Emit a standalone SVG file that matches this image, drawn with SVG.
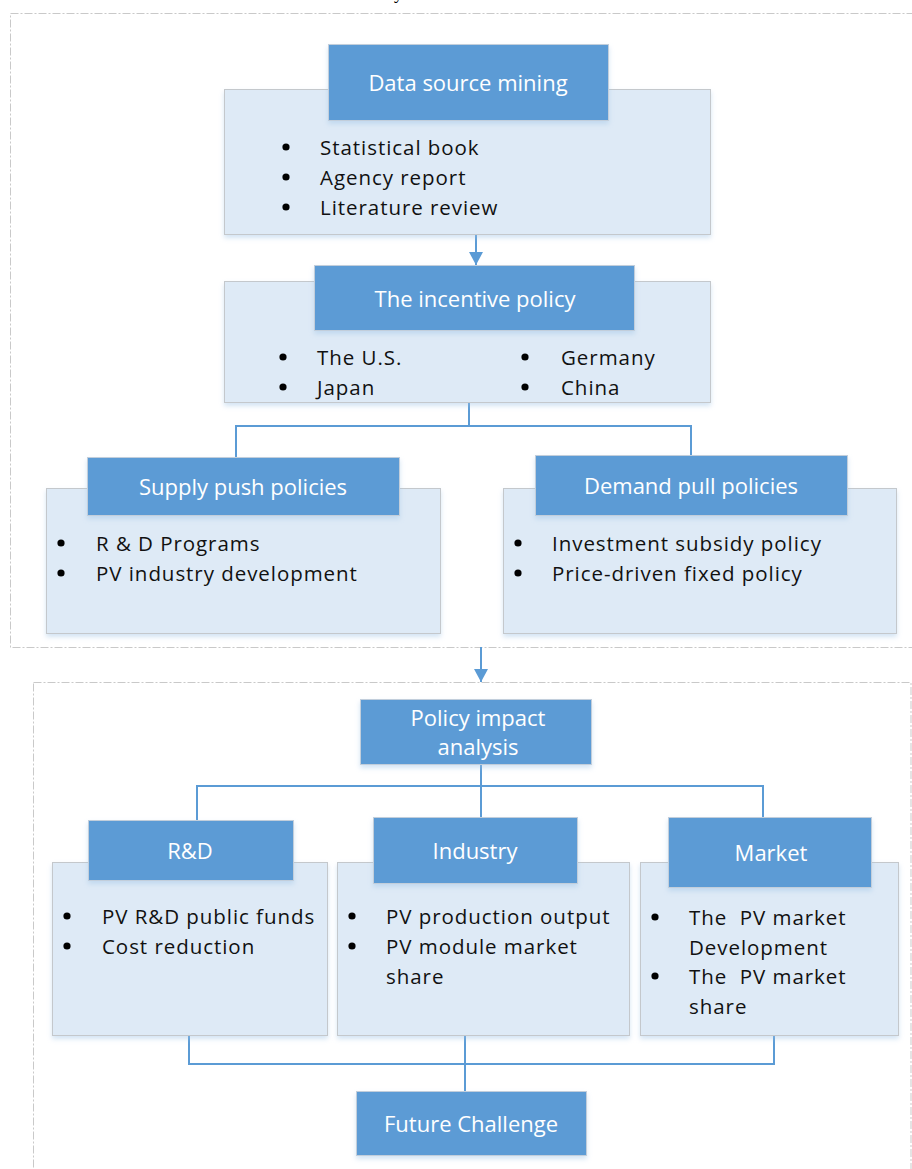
<svg xmlns="http://www.w3.org/2000/svg" width="912" height="1169" viewBox="0 0 912 1169">
  <defs>
    <filter id="shadow" x="-5%" y="-5%" width="110%" height="120%">
      <feDropShadow dx="0" dy="3" stdDeviation="2.5" flood-color="#9dc3e6" flood-opacity="0.45"/>
    </filter>
    <marker id="arrow" viewBox="0 0 14 14" refX="13" refY="7" markerWidth="14" markerHeight="14" markerUnits="userSpaceOnUse" orient="auto">
      <path d="M0,0 L13,7 L0,14 Z" fill="#5b9bd5"/>
    </marker>
    <style>
      .frame { fill: none; stroke: #c9c9c9; stroke-width: 1; stroke-dasharray: 8 2 2 2; }
      .body { fill: #deeaf6; stroke: #c4c8cc; stroke-width: 1; filter: url(#shadow); }
      .head { fill: #5b9bd5; stroke: #c2cedb; stroke-width: 1; filter: url(#shadow); }
      .ht { font-family: "Open Sans", "Noto Sans", sans-serif; font-size: 22px; fill: #ffffff; text-anchor: middle; }
      .bt { font-family: "Open Sans", "Noto Sans", sans-serif; font-size: 20.5px; fill: #111111; letter-spacing: 0.95px; }
      .dot { fill: #000000; }
      .link { fill: none; stroke: #5b9bd5; stroke-width: 2; }
    </style>
  </defs>

  <rect width="912" height="1169" fill="#ffffff"/>

  <!-- clipped caption above the frame -->
  <text x="394" y="-1" font-family="Liberation Serif, serif" font-size="18" fill="#000">y</text>

  <!-- dashed frames -->
  <rect class="frame" x="10.5" y="13.5" width="920" height="634"/>
  <rect class="frame" x="33.5" y="682.5" width="877.5" height="520"/>

  <!-- connectors -->
  <g id="connectors">
    <line class="link" x1="476" y1="234" x2="476" y2="265" marker-end="url(#arrow)"/>
    <path class="link" d="M469,403 V426 M236,426 H691 M236,425 V457 M691,425 V456"/>
    <line class="link" x1="481" y1="647" x2="481" y2="682" marker-end="url(#arrow)"/>
    <path class="link" d="M481,765 V817 M197,786 H763 M197,785 V820 M763,785 V817"/>
    <path class="link" d="M189,1036 V1064 M465,1036 V1091 M774,1036 V1064 M188,1064 H775"/>
  </g>

  <g id="data-source-mining">
    <rect class="body" x="224.5" y="89.5" width="486" height="145"/>
    <rect class="head" x="328.5" y="44.5" width="280" height="76"/>
    <text class="ht" x="468" y="90.5">Data source mining</text>
    <circle class="dot" cx="286" cy="147" r="3.6"/>
    <circle class="dot" cx="286" cy="177" r="3.6"/>
    <circle class="dot" cx="286" cy="207" r="3.6"/>
    <text class="bt" x="320" y="155">Statistical book</text>
    <text class="bt" x="320" y="185">Agency report</text>
    <text class="bt" x="320" y="215">Literature review</text>
  </g>

  <g id="incentive-policy">
    <rect class="body" x="224.5" y="281.5" width="486" height="121"/>
    <rect class="head" x="314.5" y="265.5" width="320" height="65"/>
    <text class="ht" x="475" y="307">The incentive policy</text>
    <circle class="dot" cx="283" cy="357" r="3.6"/>
    <circle class="dot" cx="283" cy="387" r="3.6"/>
    <circle class="dot" cx="525" cy="357" r="3.6"/>
    <circle class="dot" cx="525" cy="387" r="3.6"/>
    <text class="bt" x="317" y="365">The U.S.</text>
    <text class="bt" x="317" y="395">Japan</text>
    <text class="bt" x="561" y="365">Germany</text>
    <text class="bt" x="561" y="395">China</text>
  </g>

  <g id="supply-push">
    <rect class="body" x="46.5" y="488.5" width="394" height="145"/>
    <rect class="head" x="87.5" y="457.5" width="312" height="58"/>
    <text class="ht" x="243" y="495">Supply push policies</text>
    <circle class="dot" cx="61" cy="543" r="3.6"/>
    <circle class="dot" cx="61" cy="573" r="3.6"/>
    <text class="bt" x="96" y="551">R &amp; D Programs</text>
    <text class="bt" x="96" y="581">PV industry development</text>
  </g>

  <g id="demand-pull">
    <rect class="body" x="503.5" y="488.5" width="393" height="145"/>
    <rect class="head" x="535.5" y="455.5" width="312" height="60"/>
    <text class="ht" x="691" y="494">Demand pull policies</text>
    <circle class="dot" cx="518" cy="543" r="3.6"/>
    <circle class="dot" cx="518" cy="573" r="3.6"/>
    <text class="bt" x="552" y="551">Investment subsidy policy</text>
    <text class="bt" x="552" y="581">Price-driven fixed policy</text>
  </g>

  <g id="policy-impact">
    <rect class="head" x="360.5" y="699.5" width="231" height="65"/>
    <text class="ht" x="478" y="726">Policy impact</text>
    <text class="ht" x="478" y="755">analysis</text>
  </g>

  <g id="rnd">
    <rect class="body" x="52.5" y="862.5" width="275" height="173"/>
    <rect class="head" x="88.5" y="820.5" width="205" height="60"/>
    <text class="ht" x="190" y="859">R&amp;D</text>
    <circle class="dot" cx="67" cy="916" r="3.6"/>
    <circle class="dot" cx="67" cy="946" r="3.6"/>
    <text class="bt" x="102" y="924">PV R&amp;D public funds</text>
    <text class="bt" x="102" y="954">Cost reduction</text>
  </g>

  <g id="industry">
    <rect class="body" x="337.5" y="862.5" width="292" height="173"/>
    <rect class="head" x="373.5" y="817.5" width="204" height="66"/>
    <text class="ht" x="475" y="859">Industry</text>
    <circle class="dot" cx="352" cy="916" r="3.6"/>
    <circle class="dot" cx="352" cy="946" r="3.6"/>
    <text class="bt" x="386" y="924">PV production output</text>
    <text class="bt" x="386" y="954">PV module market</text>
    <text class="bt" x="386" y="984">share</text>
  </g>

  <g id="market">
    <rect class="body" x="640.5" y="862.5" width="258" height="173"/>
    <rect class="head" x="668.5" y="817.5" width="203" height="70"/>
    <text class="ht" x="771" y="861">Market</text>
    <circle class="dot" cx="655" cy="917" r="3.6"/>
    <circle class="dot" cx="655" cy="976" r="3.6"/>
    <text class="bt" x="689" y="925" xml:space="preserve">The  PV market</text>
    <text class="bt" x="689" y="955">Development</text>
    <text class="bt" x="689" y="984" xml:space="preserve">The  PV market</text>
    <text class="bt" x="689" y="1014">share</text>
  </g>

  <g id="future-challenge">
    <rect class="head" x="356.5" y="1091.5" width="230" height="64"/>
    <text class="ht" x="471" y="1132">Future Challenge</text>
  </g>
</svg>
